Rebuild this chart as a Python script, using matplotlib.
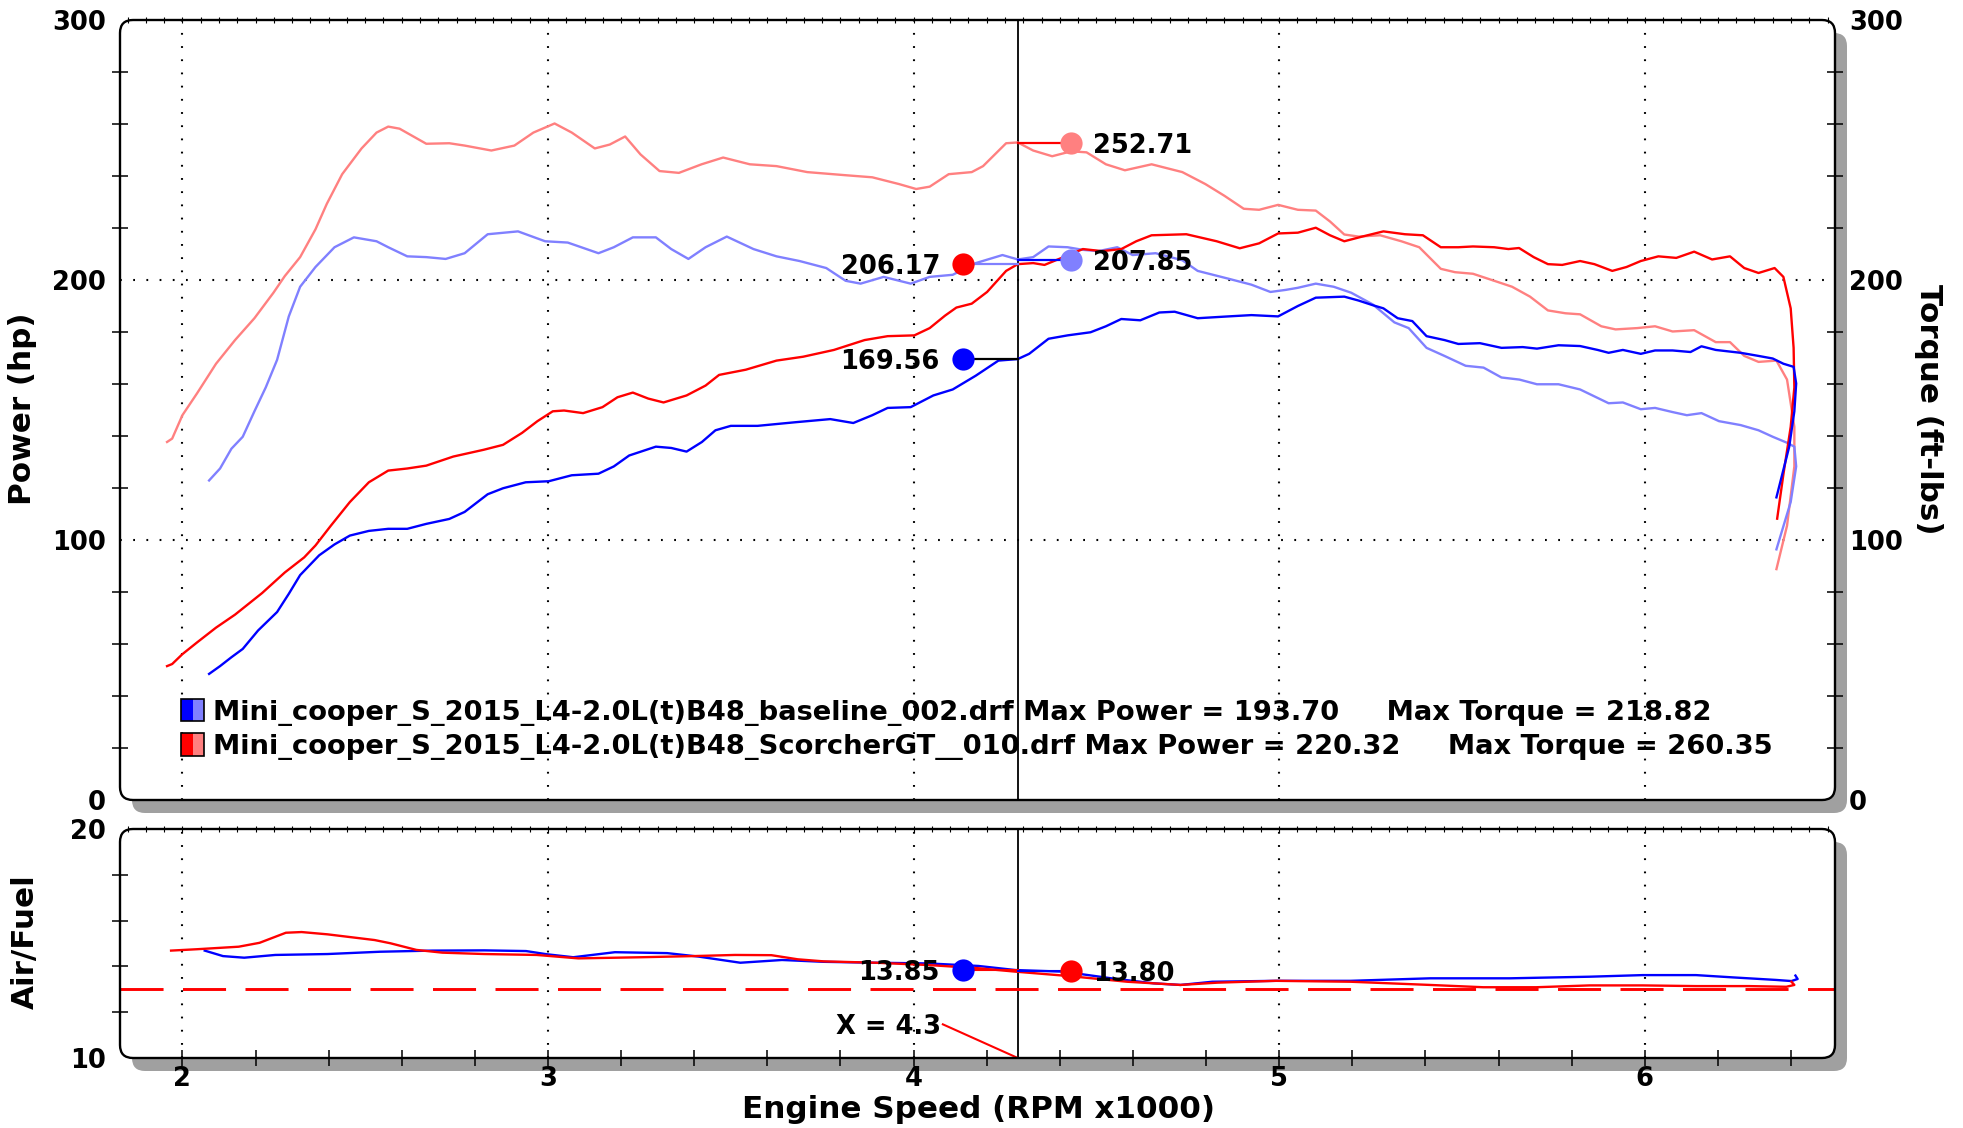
import numpy as np
import matplotlib
matplotlib.use("Agg")
import matplotlib.pyplot as plt
from matplotlib.patches import FancyBboxPatch, Rectangle
from matplotlib.transforms import IdentityTransform

plt.rcParams["font.family"] = ["DejaVu Sans"]
plt.rcParams["font.weight"] = "bold"
plt.rcParams["lines.scale_dashes"] = False

# ---------------- data (rpm x1000, value) ----------------
bl_power = [(2.073,48.5),(2.103,51.5),(2.134,54.9),(2.165,58.1),(2.207,65.2),(2.259,72.3),(2.291,79.3),
            (2.322,86.5),(2.374,94.1),(2.416,98.3),(2.458,101.7),(2.51,103.5),(2.563,104.3),(2.615,104.3),
            (2.667,106.2),(2.73,108.1),(2.772,110.8),(2.835,117.6),(2.877,119.9),(2.939,122.2),(3.002,122.6),
            (3.065,124.9),(3.138,125.5),(3.18,128.3),(3.222,132.5),(3.295,135.9),(3.337,135.4),(3.379,134.0),
            (3.421,137.7),(3.458,142.2),(3.5,143.9),(3.573,143.9),(3.677,145.3),(3.772,146.5),(3.835,145.0),
            (3.887,148.0),(3.929,150.8),(3.992,151.1),(4.054,155.6),(4.107,157.9),(4.17,163.2),(4.232,169.0),
            (4.285,169.6),(4.316,171.6),(4.369,177.4),(4.421,178.7),(4.484,179.9),(4.526,182.2),(4.568,185.0),
            (4.62,184.5),(4.672,187.5),(4.714,187.8),(4.777,185.3),(4.861,186.0),(4.924,186.5),(4.997,186.0),
            (5.051,190.0),(5.1,193.2),(5.178,193.6),(5.217,192.1),(5.256,190.3),(5.285,189.1),(5.324,185.3),
            (5.364,184.2),(5.403,178.4),(5.452,176.9),(5.49,175.4),(5.549,175.7),(5.608,173.9),(5.666,174.2),
            (5.705,173.6),(5.764,174.9),(5.823,174.6),(5.871,173.1),(5.901,172.0),(5.94,173.1),(5.989,171.6),
            (6.028,172.9),(6.076,172.9),(6.125,172.3),(6.155,174.5),(6.194,173.1),(6.262,172.0),(6.311,170.8),
            (6.35,169.8),(6.379,167.8),(6.407,166.6),(6.414,160.2),(6.409,149.5),(6.395,135.9),(6.36,116.4)]

bl_torque = [(2.073,122.9),(2.103,127.5),(2.134,135.1),(2.165,139.7),(2.197,149.5),(2.228,158.7),(2.259,169.3),
             (2.291,186.0),(2.322,197.4),(2.364,205.0),(2.416,212.6),(2.469,216.4),(2.531,214.9),(2.563,212.6),
             (2.615,209.1),(2.667,208.8),(2.72,208.1),(2.772,210.3),(2.835,217.6),(2.918,218.7),(2.992,214.9),
             (3.054,214.4),(3.138,210.3),(3.18,212.6),(3.232,216.4),(3.295,216.4),(3.337,211.9),(3.384,208.1),
             (3.431,212.6),(3.489,216.7),(3.562,211.9),(3.625,209.1),(3.688,207.3),(3.761,204.6),(3.814,199.7),
             (3.855,198.6),(3.918,201.2),(3.992,198.6),(4.044,201.2),(4.107,202.0),(4.17,206.5),(4.243,209.6),
             (4.285,207.9),(4.327,208.8),(4.369,212.9),(4.421,212.6),(4.463,211.6),(4.505,211.1),(4.557,212.6),
             (4.599,209.6),(4.662,210.3),(4.735,207.6),(4.777,203.5),(4.861,200.5),(4.924,198.2),(4.976,195.4),
             (5.018,196.2),(5.051,197.0),(5.1,198.6),(5.149,197.4),(5.197,195.1),(5.256,190.6),(5.315,183.7),
             (5.354,181.5),(5.403,173.9),(5.452,170.8),(5.51,167.0),(5.559,166.3),(5.608,162.5),(5.657,161.7),
             (5.705,159.9),(5.764,159.9),(5.823,157.9),(5.901,152.6),(5.94,152.9),(5.989,150.3),(6.028,150.8),
             (6.076,149.2),(6.115,148.0),(6.155,148.8),(6.203,145.7),(6.262,144.2),(6.311,142.2),(6.35,139.7),
             (6.389,137.4),(6.409,135.9),(6.414,128.3),(6.399,114.6),(6.36,96.4)]

sc_power = [(1.958,51.5),(1.972,52.3),(2.0,56.1),(2.04,60.6),(2.092,66.3),(2.144,71.3),(2.218,79.6),(2.28,87.5),
            (2.333,93.3),(2.364,97.9),(2.406,105.5),(2.458,114.6),(2.51,122.2),(2.563,126.7),(2.615,127.5),
            (2.667,128.6),(2.741,132.1),(2.824,134.7),(2.877,136.6),(2.929,141.2),(2.971,145.7),(3.013,149.5),
            (3.044,149.8),(3.096,148.8),(3.149,151.1),(3.19,154.9),(3.232,156.7),(3.274,154.4),(3.316,152.9),
            (3.379,155.6),(3.431,159.4),(3.468,163.5),(3.541,165.5),(3.625,169.0),(3.698,170.5),(3.782,173.1),
            (3.866,176.9),(3.929,178.4),(4.002,178.7),(4.044,181.5),(4.086,186.3),(4.117,189.4),(4.159,190.9),
            (4.201,195.4),(4.253,203.5),(4.285,206.1),(4.327,206.5),(4.358,205.8),(4.41,208.8),(4.463,211.9),
            (4.515,211.1),(4.568,211.9),(4.609,214.9),(4.651,217.2),(4.746,217.6),(4.829,214.9),(4.892,212.2),
            (4.945,214.1),(4.997,217.9),(5.051,218.2),(5.1,220.1),(5.139,217.2),(5.178,214.9),(5.227,216.7),
            (5.285,218.7),(5.344,217.6),(5.393,217.2),(5.442,212.6),(5.49,212.6),(5.53,212.9),(5.588,212.6),
            (5.627,211.9),(5.656,212.3),(5.696,208.8),(5.735,206.1),(5.774,205.8),(5.823,207.3),(5.862,206.1),
            (5.911,203.5),(5.95,205.0),(5.989,207.3),(6.037,209.1),(6.086,208.5),(6.135,210.9),(6.184,207.9),
            (6.233,209.1),(6.272,204.6),(6.311,202.7),(6.355,204.6),(6.379,201.2),(6.399,189.1),(6.407,173.9),
            (6.409,158.7),(6.399,143.5),(6.379,125.2),(6.362,108.2)]

sc_torque = [(1.958,137.7),(1.972,139.0),(2.0,148.0),(2.04,156.4),(2.092,167.8),(2.144,176.9),(2.197,185.3),
             (2.249,195.1),(2.28,201.5),(2.322,208.8),(2.364,219.5),(2.395,229.3),(2.437,240.7),(2.49,250.6),
             (2.531,256.7),(2.563,259.0),(2.594,258.2),(2.667,252.4),(2.73,252.6),(2.772,251.7),(2.845,249.8),
             (2.908,251.7),(2.96,256.7),(3.018,260.2),(3.065,256.7),(3.128,250.6),(3.169,252.1),(3.211,255.2),
             (3.253,248.3),(3.305,241.9),(3.358,241.2),(3.42,244.5),(3.479,247.1),(3.552,244.5),(3.625,243.8),
             (3.709,241.5),(3.814,240.3),(3.887,239.5),(3.96,236.9),(4.007,235.0),(4.044,235.9),(4.096,240.7),
             (4.159,241.5),(4.19,243.8),(4.253,252.6),(4.285,252.9),(4.327,249.8),(4.379,247.6),(4.431,249.5),
             (4.473,249.1),(4.526,244.5),(4.578,242.2),(4.651,244.5),(4.735,241.5),(4.798,236.9),(4.85,232.4),
             (4.903,227.4),(4.945,227.0),(4.997,228.9),(5.051,227.0),(5.1,226.7),(5.139,222.5),(5.178,217.5),
             (5.217,216.7),(5.276,217.2),(5.334,214.9),(5.383,212.6),(5.442,204.3),(5.481,203.0),(5.53,202.4),
             (5.588,199.7),(5.637,197.4),(5.686,193.6),(5.735,188.3),(5.783,187.2),(5.823,186.8),(5.881,182.2),
             (5.92,181.0),(5.979,181.5),(6.028,182.2),(6.076,180.2),(6.135,180.7),(6.194,176.1),(6.233,176.1),
             (6.272,170.8),(6.311,168.5),(6.36,169.0),(6.389,161.7),(6.409,143.5),(6.409,128.3),(6.389,105.5),
             (6.36,88.8)]

bl_afr = [(2.061,14.69),(2.111,14.45),(2.169,14.38),(2.254,14.5),(2.397,14.54),(2.54,14.64),(2.683,14.69),
          (2.826,14.7),(2.94,14.67),(2.997,14.53),(3.069,14.4),(3.183,14.62),(3.326,14.58),(3.411,14.43),
          (3.526,14.16),(3.64,14.28),(3.754,14.2),(3.897,14.16),(4.04,14.13),(4.177,14.02),(4.279,13.84),
          (4.41,13.77),(4.541,13.48),(4.657,13.26),(4.73,13.19),(4.817,13.33),(4.991,13.37),(5.195,13.37),
          (5.413,13.48),(5.631,13.48),(5.849,13.55),(5.994,13.62),(6.14,13.62),(6.241,13.52),(6.358,13.41),
          (6.401,13.36),(6.418,13.45),(6.412,13.6)]

sc_afr = [(1.969,14.69),(2.04,14.75),(2.154,14.86),(2.211,15.03),(2.283,15.47),(2.326,15.5),(2.397,15.4),
          (2.526,15.15),(2.569,15.01),(2.64,14.72),(2.711,14.6),(2.826,14.54),(2.969,14.5),(3.083,14.35),
          (3.254,14.4),(3.397,14.45),(3.511,14.5),(3.611,14.49),(3.683,14.31),(3.754,14.22),(3.897,14.16),
          (4.04,14.06),(4.177,13.92),(4.279,13.77),(4.424,13.58),(4.584,13.33),(4.73,13.19),(4.831,13.29),
          (4.991,13.37),(5.195,13.33),(5.413,13.19),(5.558,13.09),(5.703,13.09),(5.849,13.17),(5.994,13.17),
          (6.14,13.14),(6.285,13.14),(6.387,13.11),(6.409,13.19),(6.401,13.33)]

run_files = ["Mini_cooper_S_2015_L4-2.0L(t)B48_baseline_002.drf",
             "Mini_cooper_S_2015_L4-2.0L(t)B48_ScorcherGT__010.drf"]
max_power = [193.70, 220.32]
max_torque = [218.82, 260.35]

cursor_rpm = 4.285
cursor_label = "X = 4.3"
cursor_power = [169.56, 206.17]      # baseline, scorcher (hp)
cursor_torque = [207.85, 252.71]     # baseline, scorcher (ft-lbs)
cursor_afr = [13.85, 13.80]          # baseline, scorcher
afr_target = 13.0

# ---------------- style ----------------
BLUE, LBLUE, RED, LRED = "#0000ff", "#8080ff", "#ff0000", "#ff8080"
W, H = 1963, 1128
TOP = (120, 20, 1835, 800)
BOT = (120, 829, 1835, 1058)
XMIN, XMAX = 1.8293, 6.5202
NUM = 18.5
LAB = 22.3

fig = plt.figure(figsize=(W / 100, H / 100), dpi=100)


def rect(box):
    l, t, r, b = box
    return [l / W, 1 - b / H, (r - l) / W, (b - t) / H]


ax1 = fig.add_axes(rect(TOP))
ax2 = fig.add_axes(rect(BOT))

for box in (TOP, BOT):
    l, t, r, b = box
    kw = dict(boxstyle="round,pad=0,rounding_size=13", transform=IdentityTransform())
    fig.add_artist(FancyBboxPatch((l + 12, H - b - 13), r - l, b - t, facecolor="#a0a0a0",
                                  edgecolor="none", zorder=-3, **kw))
    fig.add_artist(FancyBboxPatch((l, H - b), r - l, b - t, facecolor="white",
                                  edgecolor="none", zorder=-2, **kw))
    fig.add_artist(FancyBboxPatch((l, H - b), r - l, b - t, facecolor="none",
                                  edgecolor="black", linewidth=1.7, zorder=3, **kw))

dot = (0, (1.3, 8.2))
for ax in (ax1, ax2):
    ax.patch.set_visible(False)
    for s in ax.spines.values():
        s.set_visible(False)
    ax.set_xlim(XMIN, XMAX)
    for v in [2, 3, 4, 5, 6]:
        ax.axvline(v, color="black", lw=1.5, ls=dot, zorder=1)
    ax.axvline(cursor_rpm, color="black", lw=1.3, zorder=2)

for v in [100, 200]:
    ax1.axhline(v, color="black", lw=1.5, ls=dot, zorder=1)


def xy(pairs):
    a = np.array(pairs)
    return a[:, 0], a[:, 1]


# ---------------- top panel ----------------
ax1.set_ylim(0, 300)
for series, col in ((sc_torque, LRED), (bl_torque, LBLUE), (sc_power, RED), (bl_power, BLUE)):
    x, y = xy(series)
    ax1.plot(x, y, color=col, lw=1.7, zorder=4, solid_joinstyle="round")

left_x, right_x = 4.135, 4.43
# leader lines (colours as in the reference)
ax1.plot([left_x, cursor_rpm], [cursor_power[1]] * 2, color=LBLUE, lw=1.6, zorder=4)
ax1.plot([left_x, cursor_rpm], [cursor_power[0]] * 2, color="black", lw=1.6, zorder=4)
ax1.plot([cursor_rpm, right_x], [cursor_torque[0]] * 2, color=BLUE, lw=1.6, zorder=4)
ax1.plot([cursor_rpm, right_x], [cursor_torque[1]] * 2, color=RED, lw=1.6, zorder=4)
for xv, yv, col in ((left_x, cursor_power[1], RED), (left_x, cursor_power[0], BLUE),
                    (right_x, cursor_torque[0], LBLUE), (right_x, cursor_torque[1], LRED)):
    ax1.plot(xv, yv, "o", ms=16, color=col, mec="none", zorder=6)
for v in cursor_power:
    ax1.text(4.072, v, f"{v:.2f}", ha="right", va="center_baseline", fontsize=NUM, fontweight="bold", zorder=7)
for v in cursor_torque:
    ax1.text(4.492, v, f"{v:.2f}", ha="left", va="center_baseline", fontsize=NUM, fontweight="bold", zorder=7)

# legend block
leg_y = [34.6, 21.5]
for i, (fname, mp, mt) in enumerate(zip(run_files, max_power, max_torque)):
    dark, light = (BLUE, LBLUE) if i == 0 else (RED, LRED)
    y0 = leg_y[i] - 4.4
    ax1.add_patch(Rectangle((1.997, y0), 0.031, 8.8, facecolor=dark, edgecolor="none", zorder=5))
    ax1.add_patch(Rectangle((2.028, y0), 0.032, 8.8, facecolor=light, edgecolor="none", zorder=5))
    ax1.add_patch(Rectangle((1.997, y0), 0.063, 8.8, facecolor="none", edgecolor="black", lw=1.2, zorder=6))
    ax1.text(2.084, leg_y[i], f"{fname} Max Power = {mp:.2f}     Max Torque = {mt:.2f}",
             ha="left", va="center_baseline", fontsize=19.75, fontweight="bold", zorder=7)

ax1.set_yticks([0, 100, 200, 300])
ax1.set_yticks(np.arange(20, 300, 20), minor=True)
ax1.tick_params(axis="y", which="major", length=0, pad=10, labelsize=NUM,
                left=True, right=True, labelleft=True, labelright=True)
ax1.tick_params(axis="y", which="minor", direction="inout", length=11, width=1.1, left=True, right=True)
ax1.set_xticks(np.arange(37, 131) * 0.05)
ax1.tick_params(axis="x", which="major", bottom=False, top=True, labelbottom=False, labeltop=False,
                direction="inout", length=4, width=0.8)

# ---------------- bottom panel ----------------
ax2.set_ylim(10, 20)
ax2.axhline(afr_target, color=RED, lw=2.1, ls=(0, (31, 14)), zorder=2)
for series, col in ((bl_afr, BLUE), (sc_afr, RED)):
    x, y = xy(series)
    ax2.plot(x, y, color=col, lw=1.7, zorder=4, solid_joinstyle="round")
ax2.plot([left_x, cursor_rpm], [cursor_afr[0]] * 2, color=RED, lw=1.5, zorder=4)
ax2.plot([cursor_rpm, right_x], [cursor_afr[1]] * 2, color=BLUE, lw=1.5, zorder=4)
ax2.plot(left_x, cursor_afr[0], "o", ms=16, color=BLUE, mec="none", zorder=6)
ax2.plot(right_x, cursor_afr[1], "o", ms=16, color=RED, mec="none", zorder=6)
ax2.text(4.072, cursor_afr[0], f"{cursor_afr[0]:.2f}", ha="right", va="center_baseline",
         fontsize=NUM, fontweight="bold", zorder=7)
ax2.text(4.492, cursor_afr[1], f"{cursor_afr[1]:.2f}", ha="left", va="center_baseline",
         fontsize=NUM, fontweight="bold", zorder=7)
ax2.plot([4.08, cursor_rpm], [11.47, 10.0], color=RED, lw=1.5, zorder=4)
ax2.text(4.075, 11.47, cursor_label, ha="right", va="center_baseline", fontsize=NUM, fontweight="bold", zorder=7)

ax2.set_yticks([10, 20])
ax2.set_yticks([12, 14, 16, 18], minor=True)
ax2.tick_params(axis="y", which="major", length=0, pad=10, labelsize=NUM)
ax2.tick_params(axis="y", which="minor", direction="inout", length=11, width=1.1)
ax2.set_xticks([2, 3, 4, 5, 6])
ax2.set_xticklabels(["2", "3", "4", "5", "6"])
ax2.set_xticks([v for v in np.round(np.arange(2.2, 6.41, 0.2), 1) if v % 1], minor=True)
ax2.tick_params(axis="x", which="both", direction="inout", length=11, width=1.1, pad=0, labelsize=NUM)
sec = ax2.secondary_xaxis("top")
sec.set_xticks(np.arange(37, 131) * 0.05)
sec.tick_params(direction="inout", length=4, width=0.8, labeltop=False)
for s in sec.spines.values():
    s.set_visible(False)

# ---------------- axis titles ----------------
fig.text(22.5 / W, 1 - 409 / H, "Power (hp)", rotation=90, ha="center", va="center",
         fontsize=LAB, fontweight="bold")
fig.text(1928 / W, 1 - 409 / H, "Torque (ft-lbs)", rotation=270, ha="center", va="center",
         fontsize=LAB, fontweight="bold")
fig.text(25 / W, 1 - 941.5 / H, "Air/Fuel", rotation=90, ha="center", va="center",
         fontsize=LAB, fontweight="bold")
fig.text(978 / W, 1 - 1109 / H, "Engine Speed (RPM x1000)", ha="center", va="center",
         fontsize=LAB, fontweight="bold")

fig.savefig("out.png", dpi=100)
